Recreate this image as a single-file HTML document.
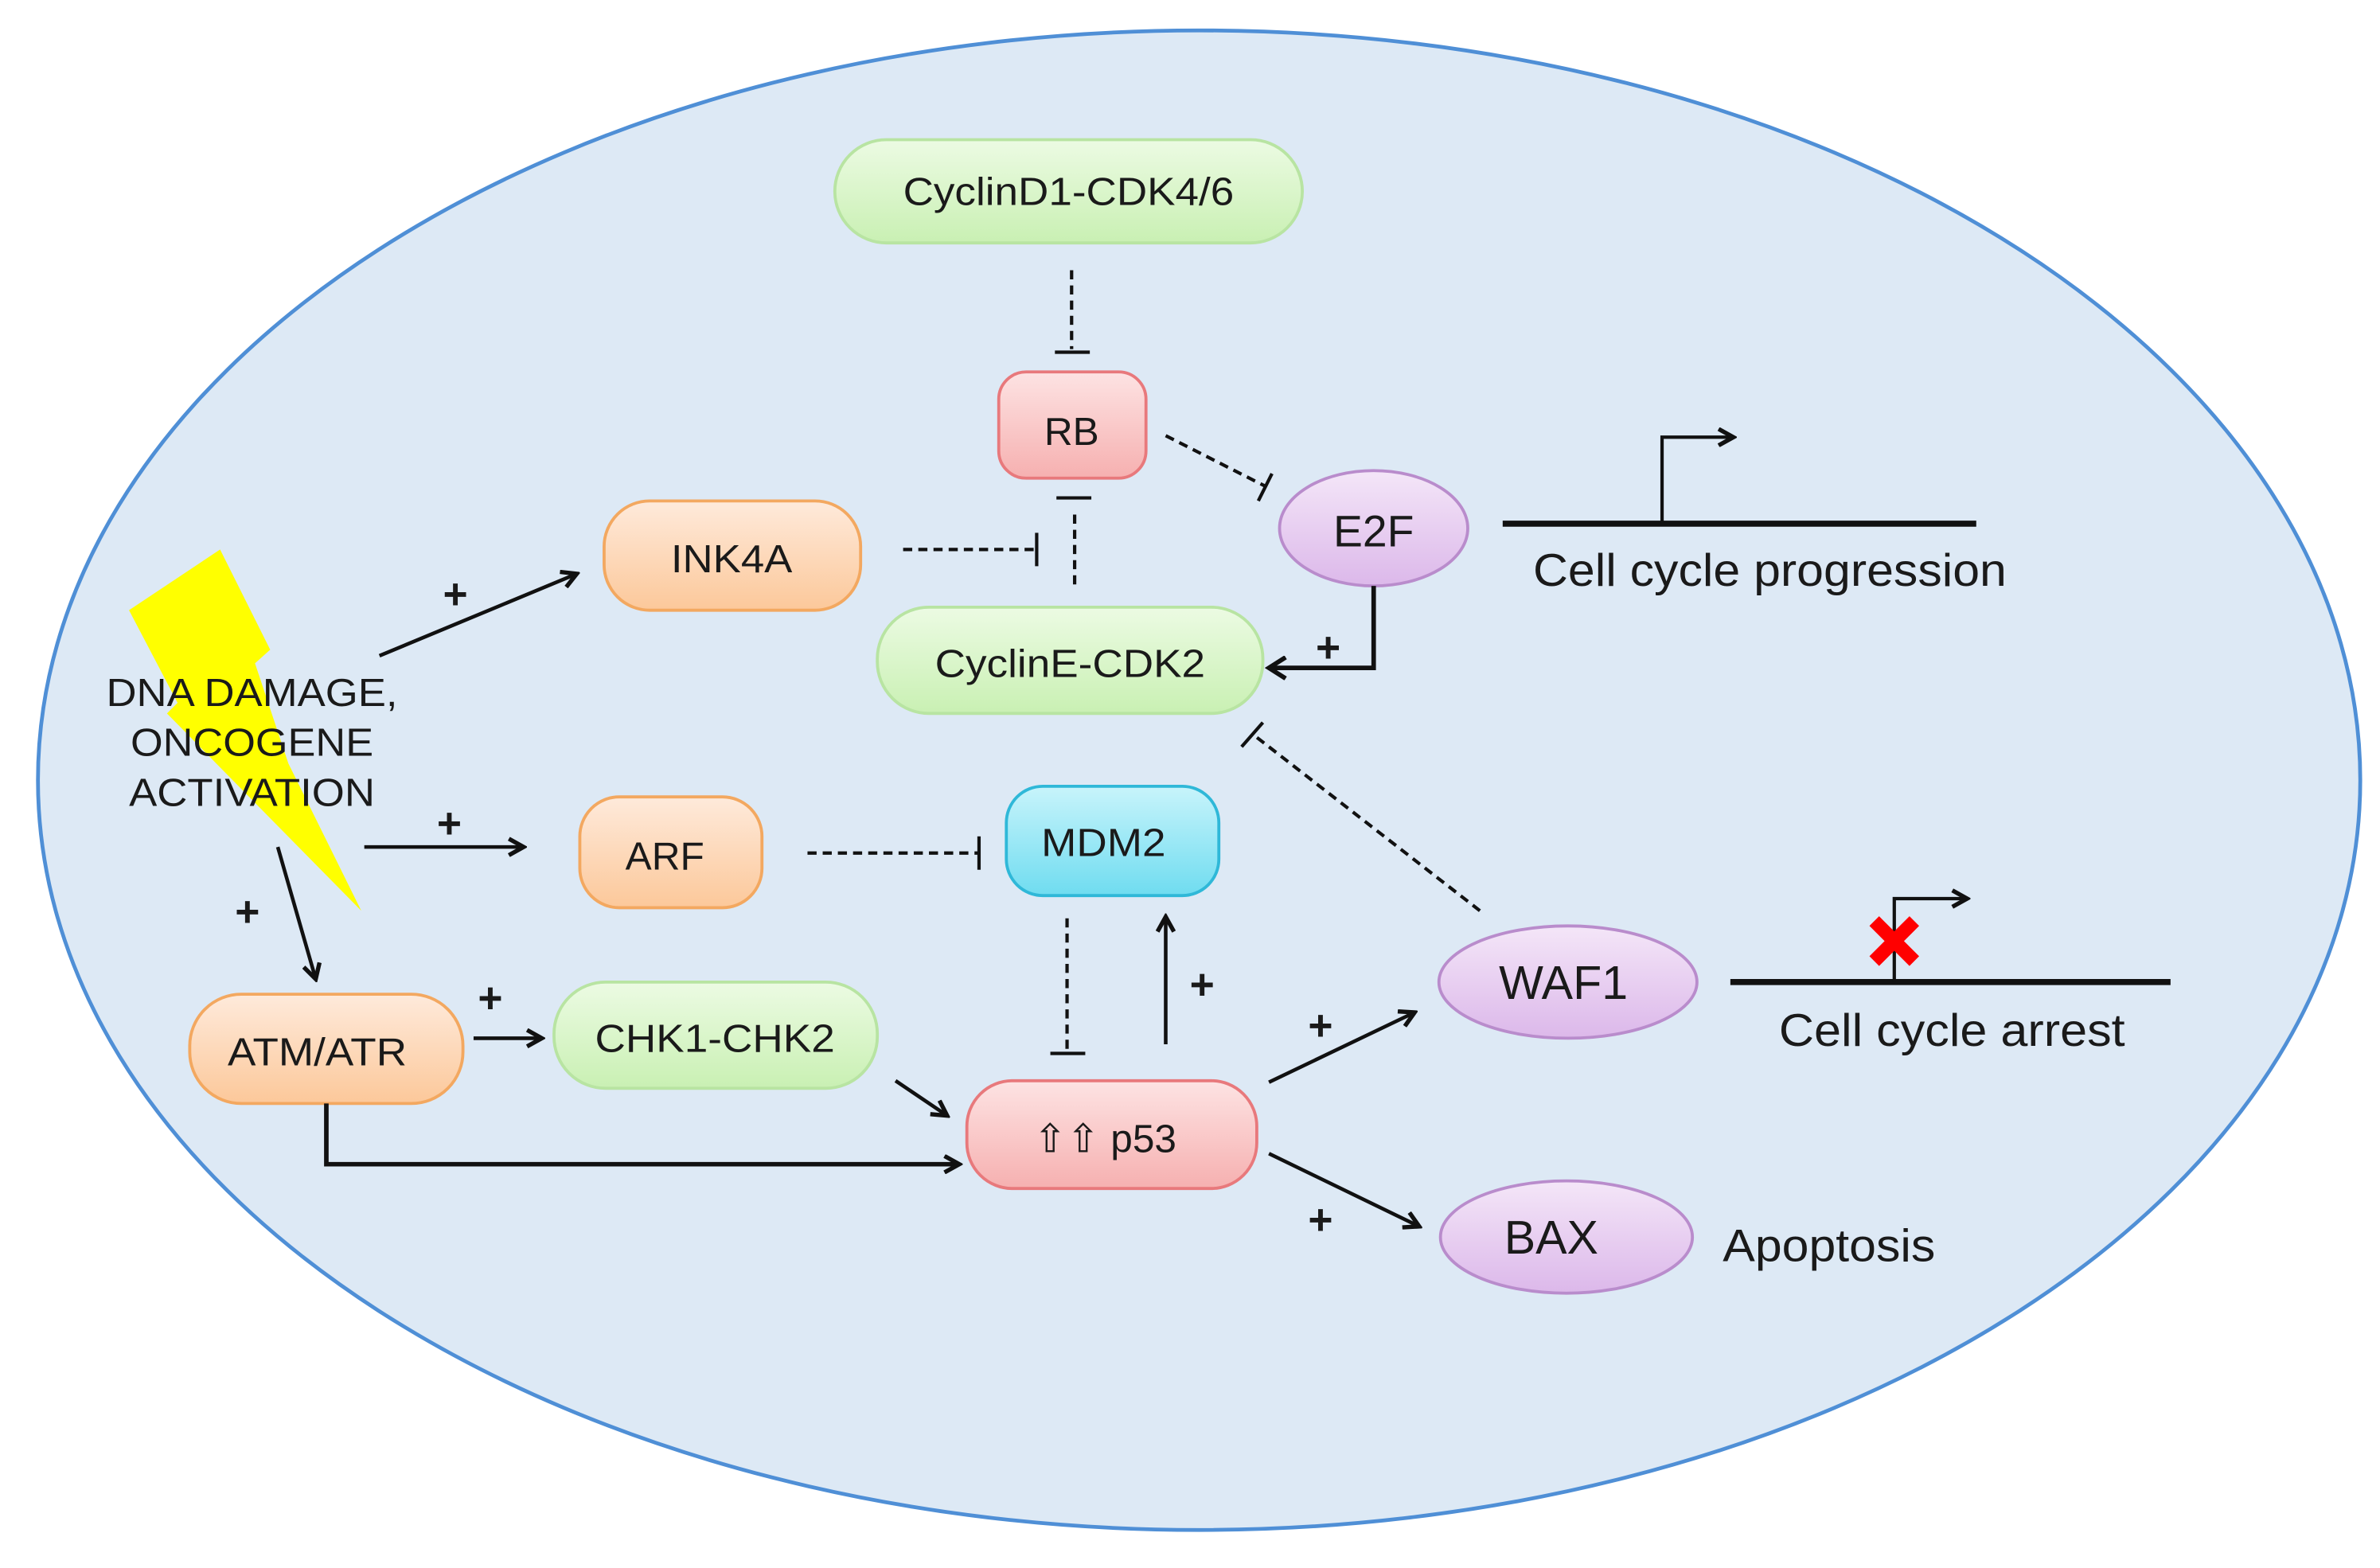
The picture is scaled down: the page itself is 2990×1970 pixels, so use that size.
<!DOCTYPE html>
<html><head><meta charset="utf-8"><style>
html,body{margin:0;padding:0;background:#fff;}
svg{display:block;}
text{font-family:"Liberation Sans",sans-serif;fill:#1a1a1a;}
</style></head><body>
<svg width="2990" height="1970" viewBox="0 0 1568 1033" xmlns="http://www.w3.org/2000/svg">
<defs>
<linearGradient id="gG" x1="0" y1="0" x2="0" y2="1"><stop offset="0" stop-color="#ecfbe3"/><stop offset="1" stop-color="#c9f0b3"/></linearGradient>
<linearGradient id="gR" x1="0" y1="0" x2="0" y2="1"><stop offset="0" stop-color="#fde3e3"/><stop offset="1" stop-color="#f6b0b0"/></linearGradient>
<linearGradient id="gO" x1="0" y1="0" x2="0" y2="1"><stop offset="0" stop-color="#feeadb"/><stop offset="1" stop-color="#fcc89a"/></linearGradient>
<linearGradient id="gP" x1="0" y1="0" x2="0" y2="1"><stop offset="0" stop-color="#f4e6f8"/><stop offset="1" stop-color="#dcb8ea"/></linearGradient>
<linearGradient id="gC" x1="0" y1="0" x2="0" y2="1"><stop offset="0" stop-color="#c8f4fb"/><stop offset="1" stop-color="#6fdcf0"/></linearGradient>
<marker id="ar" viewBox="0 0 12 12" refX="10" refY="6" markerWidth="13" markerHeight="13" markerUnits="userSpaceOnUse" orient="auto"><path d="M1,1 L10,6 L1,11" fill="none" stroke="#111" stroke-width="2.6"/></marker>
<marker id="ar2" viewBox="0 0 16 16" refX="13" refY="8" markerWidth="16" markerHeight="16" markerUnits="userSpaceOnUse" orient="auto"><path d="M2,1 L13,8 L2,15" fill="none" stroke="#111" stroke-width="3"/></marker>
</defs>
<ellipse cx="790" cy="514" rx="765" ry="494" fill="#dde9f5" stroke="#4f8fd6" stroke-width="2.5"/>

<polygon points="145,362 178,428 168,437 190,503 238,600 110,470 117,463 85,402" fill="#ffff00"/>

<g stroke-width="2">
<rect x="550" y="92" width="308" height="68" rx="34" fill="url(#gG)" stroke="#b8e4a2"/>
<rect x="658" y="245" width="97" height="70" rx="18" fill="url(#gR)" stroke="#e8797c"/>
<rect x="398" y="330" width="169" height="72" rx="30" fill="url(#gO)" stroke="#f3a860"/>
<ellipse cx="905" cy="348" rx="62" ry="38" fill="url(#gP)" stroke="#b98ccc"/>
<rect x="578" y="400" width="254" height="70" rx="34" fill="url(#gG)" stroke="#b8e4a2"/>
<rect x="382" y="525" width="120" height="73" rx="26" fill="url(#gO)" stroke="#f3a860"/>
<rect x="663" y="518" width="140" height="72" rx="24" fill="url(#gC)" stroke="#2fb8d8"/>
<rect x="125" y="655" width="180" height="72" rx="34" fill="url(#gO)" stroke="#f3a860"/>
<rect x="365" y="647" width="213" height="70" rx="34" fill="url(#gG)" stroke="#b8e4a2"/>
<rect x="637" y="712" width="191" height="71" rx="30" fill="url(#gR)" stroke="#e8797c"/>
<ellipse cx="1033" cy="647" rx="85" ry="37" fill="url(#gP)" stroke="#b98ccc"/>
<ellipse cx="1032" cy="815" rx="83" ry="37" fill="url(#gP)" stroke="#b98ccc"/>
</g>

<g font-size="26" text-anchor="middle">
<text x="704" y="135" textLength="218" lengthAdjust="spacingAndGlyphs">CyclinD1-CDK4/6</text>
<text x="706" y="293">RB</text>
<text x="482" y="377" textLength="80" lengthAdjust="spacingAndGlyphs">INK4A</text>
<text x="905" y="360" font-size="29">E2F</text>
<text x="705" y="446" textLength="178" lengthAdjust="spacingAndGlyphs">CyclinE-CDK2</text>
<text x="438" y="573">ARF</text>
<text x="727" y="564" textLength="82" lengthAdjust="spacingAndGlyphs">MDM2</text>
<text x="209" y="702" textLength="118" lengthAdjust="spacingAndGlyphs">ATM/ATR</text>
<text x="471" y="693" textLength="158" lengthAdjust="spacingAndGlyphs">CHK1-CHK2</text>
<text x="728" y="759">⇧⇧ p53</text>
<text x="1030" y="658" font-size="31">WAF1</text>
<text x="1022" y="826" font-size="31">BAX</text>
<text x="166" y="465" textLength="192" lengthAdjust="spacingAndGlyphs">DNA DAMAGE,</text>
<text x="166" y="498" textLength="160" lengthAdjust="spacingAndGlyphs">ONCOGENE</text>
<text x="166" y="531" textLength="162" lengthAdjust="spacingAndGlyphs">ACTIVATION</text>
</g>
<g font-size="30">
<text x="1010" y="386" textLength="312" lengthAdjust="spacingAndGlyphs">Cell cycle progression</text>
<text x="1172" y="689" textLength="228" lengthAdjust="spacingAndGlyphs">Cell cycle arrest</text>
<text x="1135" y="831" textLength="140" lengthAdjust="spacingAndGlyphs">Apoptosis</text>
</g>

<g stroke="#111" fill="none">
<line x1="990" y1="345" x2="1302" y2="345" stroke-width="4"/>
<polyline points="1095,345 1095,288 1142,288" stroke-width="2.2" marker-end="url(#ar)"/>
<line x1="1140" y1="647" x2="1430" y2="647" stroke-width="4"/>
<polyline points="1248,647 1248,592 1296,592" stroke-width="2.2" marker-end="url(#ar)"/>
</g>
<g stroke="#ff0000" stroke-width="9" stroke-linecap="square">
<line x1="1238" y1="610" x2="1258" y2="630"/><line x1="1258" y1="610" x2="1238" y2="630"/>
</g>

<g stroke="#111" stroke-width="2.2" fill="none">
<line x1="706" y1="178" x2="706" y2="230" stroke-dasharray="6,4"/>
<line x1="695" y1="232" x2="718" y2="232"/>
<line x1="768" y1="287" x2="833" y2="320" stroke-dasharray="6,4"/>
<line x1="838" y1="312" x2="829" y2="330"/>
<line x1="595" y1="362" x2="682" y2="362" stroke-dasharray="6,4"/>
<line x1="683" y1="351" x2="683" y2="373"/>
<line x1="708" y1="385" x2="708" y2="335" stroke-dasharray="6,4"/>
<line x1="696" y1="328" x2="719" y2="328"/>
<line x1="975" y1="600" x2="827" y2="485" stroke-dasharray="6,4"/>
<line x1="818" y1="492" x2="832" y2="476"/>
<line x1="532" y1="562" x2="644" y2="562" stroke-dasharray="6,4"/>
<line x1="645" y1="551" x2="645" y2="573"/>
<line x1="703" y1="605" x2="703" y2="692" stroke-dasharray="6,4"/>
<line x1="692" y1="694" x2="715" y2="694"/>
</g>

<g stroke="#111" stroke-width="2.4" fill="none">
<polyline points="905,386 905,440 836,440" stroke-width="3" marker-end="url(#ar2)"/>
<line x1="768" y1="688" x2="768" y2="604" marker-end="url(#ar)"/>
<line x1="250" y1="432" x2="380" y2="378" marker-end="url(#ar)"/>
<line x1="240" y1="558" x2="345" y2="558" marker-end="url(#ar)"/>
<line x1="183" y1="558" x2="208" y2="645" marker-end="url(#ar)"/>
<line x1="312" y1="684" x2="357" y2="684" marker-end="url(#ar)"/>
<line x1="590" y1="712" x2="624" y2="735" marker-end="url(#ar)"/>
<polyline points="215,727 215,767 632,767" stroke-width="3" marker-end="url(#ar)"/>
<line x1="836" y1="713" x2="932" y2="667" marker-end="url(#ar)"/>
<line x1="836" y1="760" x2="935" y2="808" marker-end="url(#ar)"/>
</g>
<g font-size="28" text-anchor="middle" font-weight="bold">
<text x="875" y="436">+</text>
<text x="792" y="658">+</text>
<text x="300" y="401">+</text>
<text x="296" y="552">+</text>
<text x="163" y="610">+</text>
<text x="323" y="667">+</text>
<text x="870" y="685">+</text>
<text x="870" y="813">+</text>
</g>
</svg>
</body></html>
